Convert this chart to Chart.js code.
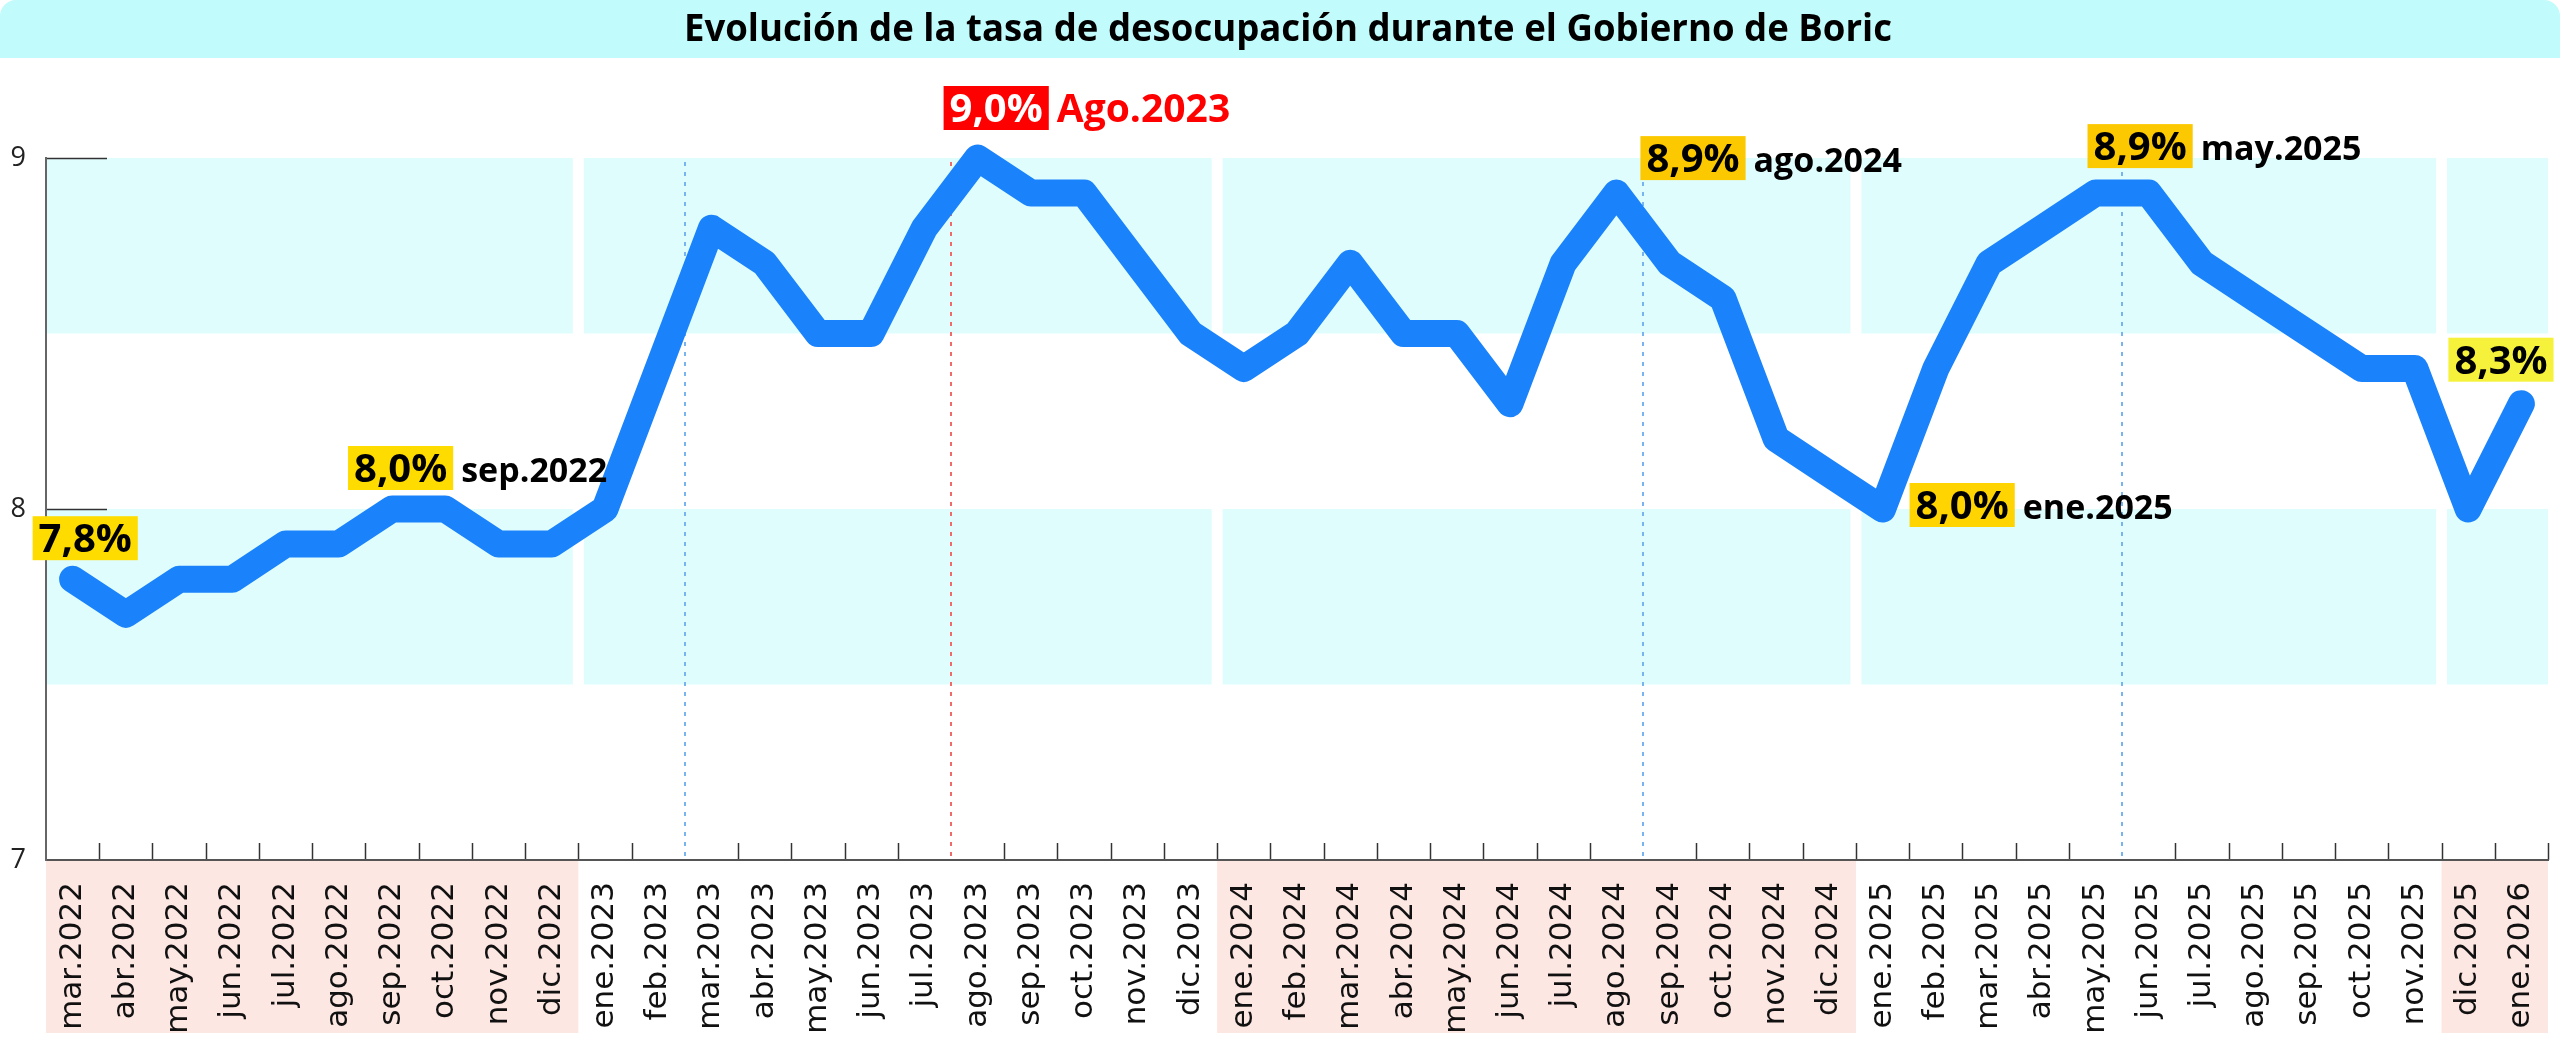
<!DOCTYPE html>
<html lang="es">
<head>
<meta charset="utf-8">
<title>Evolución de la tasa de desocupación</title>
<script src="https://cdn.jsdelivr.net/npm/chart.js@4.4.1/dist/chart.umd.min.js"></script>
<style>
  html, body { margin: 0; padding: 0; background: #fff; }
  #wrap { width: 2560px; height: 1048px; }
</style>
</head>
<body>
<div id="wrap"><canvas id="chart" width="2560" height="1048"></canvas></div>
<script>
document.addEventListener('DOMContentLoaded', function() {
    const titleText = 'Evolución de la tasa de desocupación durante el Gobierno de Boric';

    const months = [
        'mar.2022', 'abr.2022', 'may.2022', 'jun.2022', 'jul.2022', 'ago.2022', 'sep.2022', 'oct.2022', 'nov.2022', 'dic.2022',
        'ene.2023', 'feb.2023', 'mar.2023', 'abr.2023', 'may.2023', 'jun.2023', 'jul.2023', 'ago.2023', 'sep.2023', 'oct.2023', 'nov.2023', 'dic.2023',
        'ene.2024', 'feb.2024', 'mar.2024', 'abr.2024', 'may.2024', 'jun.2024', 'jul.2024', 'ago.2024', 'sep.2024', 'oct.2024', 'nov.2024', 'dic.2024',
        'ene.2025', 'feb.2025', 'mar.2025', 'abr.2025', 'may.2025', 'jun.2025', 'jul.2025', 'ago.2025', 'sep.2025', 'oct.2025', 'nov.2025', 'dic.2025',
        'ene.2026'
    ];
    const rates = [
        7.8, 7.7, 7.8, 7.8, 7.9, 7.9, 8.0, 8.0, 7.9, 7.9,
        8.0, 8.4, 8.8, 8.7, 8.5, 8.5, 8.8, 9.0, 8.9, 8.9, 8.7, 8.5,
        8.4, 8.5, 8.7, 8.5, 8.5, 8.3, 8.7, 8.9, 8.7, 8.6, 8.2, 8.1,
        8.0, 8.4, 8.7, 8.8, 8.9, 8.9, 8.7, 8.6, 8.5, 8.4, 8.4, 8.0,
        8.3
    ];
    const yTicks = [7, 8, 9];

    // shaded rows of the plot and where each block of columns starts
    const bandRows = [[8.5, 9], [7.5, 8]];
    const bandStarts = ['mar.2022', 'ene.2023', 'ene.2024', 'ene.2025', 'dic.2025'];
    // pink backgrounds behind the month labels
    const pinkRanges = [['mar.2022', 'dic.2022'], ['ene.2024', 'dic.2024'], ['dic.2025', 'ene.2026']];
    // dotted verticals, drawn on the left edge of these months
    const guideMonths = ['mar.2023', 'ago.2023', 'sep.2024', 'jun.2025'];
    const guideColors = ['#78b4f0', '#f06a6a', '#78b4f0', '#78b4f0'];

    // highlighted values
    const noteMonths = ['mar.2022', 'sep.2022', 'ago.2023', 'ago.2024', 'ene.2025', 'may.2025', 'ene.2026'];
    const noteLabels = ['', 'sep.2022', 'Ago.2023', 'ago.2024', 'ene.2025', 'may.2025', ''];
    const noteStyles = [
        { dx: -40, dy: -19, fill: '#ffdc00', color: '#000' },
        { dx: -44, dy: -19, fill: '#ffdc00', color: '#000' },
        { dx: -34, dy: -28, fill: '#ff0000', color: '#fff', labelColor: '#ff0000', labelSize: 39 },
        { dx: 24, dy: -13, fill: '#fcc800', color: '#000' },
        { dx: 27, dy: 18, fill: '#ffd400', color: '#000' },
        { dx: -8, dy: -25, fill: '#fcc800', color: '#000' },
        { dx: -73, dy: -22, fill: '#f6f23c', color: '#000' }
    ];

    const fmt = v => v.toFixed(1).replace('.', ',') + '%';

    const decor = {
        id: 'decor',
        beforeDraw(chart) {
            const { ctx, chartArea: a, scales: { x, y } } = chart;
            const half = (x.getPixelForValue(1) - x.getPixelForValue(0)) / 2;
            const edge = i => x.getPixelForValue(i) - half;
            ctx.save();

            // title bar
            ctx.fillStyle = '#c2fbfb';
            ctx.beginPath();
            ctx.roundRect(0, 0, chart.width, 58, [16, 16, 0, 0]);
            ctx.fill();
            ctx.save();
            ctx.fillStyle = '#000';
            ctx.font = '700 38px "Open Sans"';
            ctx.textAlign = 'center';
            ctx.textBaseline = 'middle';
            const tw = ctx.measureText(titleText).width;
            ctx.translate(1288, 30);
            ctx.scale(Math.min(1, 1208 / tw), 1);
            ctx.fillText(titleText, 0, 0);
            ctx.restore();

            // cyan bands
            const gap = 11;
            const starts = bandStarts.map(m => months.indexOf(m));
            ctx.fillStyle = '#e0fdfd';
            starts.forEach((s, g) => {
                const last = g === starts.length - 1;
                const e = last ? months.length : starts[g + 1];
                const x0 = edge(s) + (g ? gap / 2 : 0);
                const x1 = edge(e) - (last ? 0 : gap / 2);
                bandRows.forEach(([lo, hi]) => {
                    const y0 = y.getPixelForValue(hi);
                    const y1 = y.getPixelForValue(lo);
                    ctx.fillRect(x0, y0, x1 - x0, y1 - y0);
                });
            });

            // pink label backgrounds
            ctx.fillStyle = '#fde7e3';
            pinkRanges.forEach(([m0, m1]) => {
                const x0 = edge(months.indexOf(m0));
                const x1 = edge(months.indexOf(m1) + 1);
                ctx.fillRect(x0, a.bottom + 1, x1 - x0, 172);
            });

            // short ticks on the x axis
            const guideIdx = guideMonths.map(m => months.indexOf(m));
            ctx.strokeStyle = '#333';
            ctx.lineWidth = 1.5;
            for (let k = 1; k <= months.length; k++) {
                if (guideIdx.includes(k)) continue;
                const px = Math.round(edge(k)) + 0.5;
                ctx.beginPath();
                ctx.moveTo(px, a.bottom);
                ctx.lineTo(px, a.bottom - 17);
                ctx.stroke();
            }
            // short ticks on the y axis
            yTicks.filter(v => v > 7).forEach(v => {
                const py = Math.round(y.getPixelForValue(v)) + 0.5;
                ctx.beginPath();
                ctx.moveTo(a.left, py);
                ctx.lineTo(a.left + 61, py);
                ctx.stroke();
            });

            // dotted guides
            ctx.lineWidth = 2;
            ctx.setLineDash([4, 6]);
            guideIdx.forEach((i, n) => {
                const px = Math.round(edge(i));
                ctx.strokeStyle = guideColors[n];
                ctx.beginPath();
                ctx.moveTo(px, y.getPixelForValue(9) + 4);
                ctx.lineTo(px, a.bottom);
                ctx.stroke();
            });
            ctx.restore();
        },
        afterDatasetsDraw(chart) {
            const { ctx, scales: { x, y } } = chart;
            ctx.save();
            ctx.textAlign = 'left';
            ctx.textBaseline = 'alphabetic';
            noteMonths.forEach((m, n) => {
                const i = months.indexOf(m);
                const s = noteStyles[n];
                const px = x.getPixelForValue(i);
                const py = y.getPixelForValue(rates[i]);
                const txt = fmt(rates[i]);
                ctx.font = '700 40px "Open Sans"';
                const w = ctx.measureText(txt).width + 12;
                const h = 44;
                const bx = px + s.dx;
                const by = py + s.dy - h;
                ctx.fillStyle = s.fill;
                ctx.fillRect(bx, by, w, h);
                ctx.fillStyle = s.color;
                ctx.fillText(txt, bx + 6, by + 36);
                if (noteLabels[n]) {
                    ctx.font = '700 ' + (s.labelSize || 34) + 'px "Open Sans"';
                    ctx.fillStyle = s.labelColor || '#000';
                    ctx.fillText(noteLabels[n], bx + w + 8, by + 36);
                }
            });
            ctx.restore();
        }
    };

    new Chart(document.getElementById('chart'), {
        type: 'line',
        data: {
            labels: months,
            datasets: [{
                data: rates,
                borderColor: '#1a82fb',
                borderWidth: 27,
                borderJoinStyle: 'round',
                borderCapStyle: 'round',
                pointRadius: 0,
                tension: 0,
                fill: false,
                clip: false
            }]
        },
        options: {
            responsive: false,
            animation: false,
            devicePixelRatio: 1,
            layout: { padding: { top: 158, right: 12, bottom: 0, left: 0 } },
            plugins: {
                legend: { display: false },
                tooltip: { enabled: false },
                title: { display: false }
            },
            scales: {
                x: {
                    offset: true,
                    grid: { display: false, drawTicks: false },
                    border: { display: true, color: '#555', width: 2 },
                    ticks: {
                        autoSkip: false,
                        minRotation: 90,
                        maxRotation: 90,
                        padding: 22,
                        color: '#111',
                        font: { family: 'DejaVu Sans', size: 31 }
                    },
                    afterFit: s => {
                        s.height = 188;
                        s.paddingLeft = 0;
                        s.paddingRight = 0;
                    }
                },
                y: {
                    min: 7,
                    max: 9,
                    afterBuildTicks: s => { s.ticks = yTicks.map(v => ({ value: v })); },
                    grid: { display: false, drawTicks: false },
                    border: { display: true, color: '#666', width: 2 },
                    ticks: {
                        padding: 20,
                        color: '#222',
                        font: { family: 'Open Sans', size: 27 }
                    },
                    afterFit: s => { s.width = 46; }
                }
            }
        },
        plugins: [decor]
    });
});
</script>
</body>
</html>
